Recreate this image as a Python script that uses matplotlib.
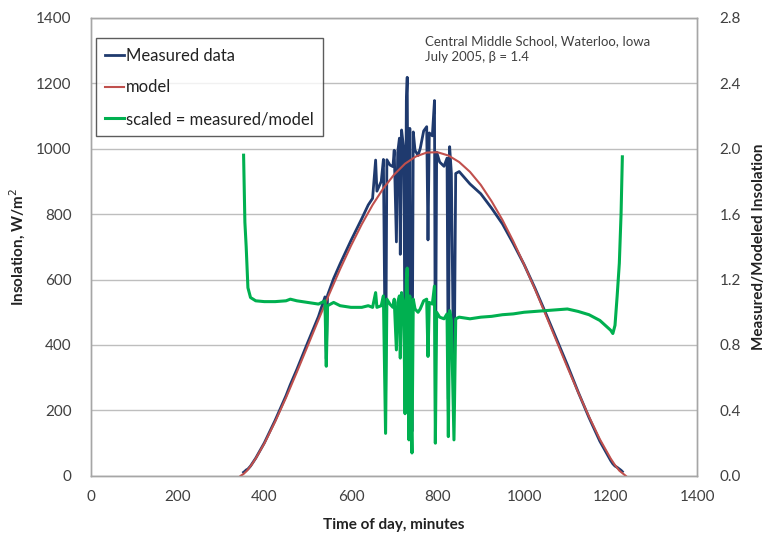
import matplotlib
matplotlib.use("Agg")
import matplotlib.pyplot as plt

plt.rcParams['font.family'] = ['Lato', 'DejaVu Sans']

# ---- data ----
model_t = [345, 352, 360, 370, 380, 400, 425, 450, 475, 500, 525, 550, 575, 600,
           625, 650, 675, 700, 725, 750, 775, 800, 825, 850, 875, 900, 925, 950,
           975, 1000, 1025, 1050, 1075, 1100, 1125, 1150, 1175, 1200, 1210, 1220, 1235]
model_v = [0, 6, 16, 33, 53, 99, 166, 239, 317, 397, 477, 556, 632, 703,
           769, 828, 879, 921, 954, 976, 988, 989, 979, 959, 929, 889, 839, 782,
           717, 646, 571, 492, 412, 332, 255, 181, 112, 53, 33, 16, 0]

meas_t = [352, 355, 358, 362, 368, 380, 400, 425, 450, 460, 475, 500, 525, 540, 543,
          546, 560, 575, 600, 625, 640, 650, 657, 660, 670, 675, 680, 683, 690, 697,
          700, 705, 708, 712, 714, 717, 722, 725, 728, 730, 732, 734, 736, 738, 741,
          744, 748, 755, 760, 768, 775, 778, 781, 788, 793, 795, 798, 805, 815, 822,
          825, 828, 832, 838, 842, 850, 875, 900, 925, 950, 975, 1000, 1025, 1050,
          1075, 1100, 1125, 1150, 1175, 1200, 1205, 1210, 1215, 1220, 1224, 1227]
meas_v = [11, 14, 18, 21, 30, 54, 101, 170, 245, 279, 325, 407, 487, 547, 358,
          552, 603, 648, 719, 786, 828, 848, 965, 870, 900, 967, 231, 966, 950, 945,
          995, 715, 988, 1032, 677, 1057, 998, 363, 1148, 1218, 673, 212, 1062, 484, 136,
          1051, 995, 979, 1000, 1054, 1067, 721, 1048, 1039, 1147, 198, 989, 959, 946, 971,
          235, 1006, 925, 213, 924, 930, 892, 862, 818, 770, 710, 646, 574, 497,
          418, 339, 256, 178, 106, 47, 37, 30, 26, 21, 17, 13]
scaled_v = [1.96, 1.55, 1.40, 1.15, 1.09, 1.07, 1.065, 1.065, 1.07, 1.08, 1.07, 1.06, 1.05, 1.07, 0.67,
            1.04, 1.06, 1.04, 1.03, 1.03, 1.04, 1.03, 1.12, 1.03, 1.04, 1.10, 0.26, 1.08, 1.05, 1.03,
            1.08, 0.77, 1.06, 1.10, 0.72, 1.12, 1.05, 0.38, 1.20, 1.27, 0.70, 0.22, 1.10, 0.50, 0.14,
            1.08, 1.02, 1.00, 1.02, 1.07, 1.08, 0.73, 1.06, 1.05, 1.16, 0.20, 1.00, 0.97, 0.96, 0.99,
            0.24, 1.01, 0.95, 0.22, 0.96, 0.97, 0.96, 0.97, 0.975, 0.985, 0.99, 1.00, 1.005, 1.01,
            1.015, 1.02, 1.005, 0.985, 0.95, 0.89, 0.87, 0.92, 1.10, 1.30, 1.60, 1.95]

x_ticks = [0, 200, 400, 600, 800, 1000, 1200, 1400]
y_ticks = [0, 200, 400, 600, 800, 1000, 1200, 1400]
y2_ticks = [0.0, 0.4, 0.8, 1.2, 1.6, 2.0, 2.4, 2.8]

c_meas = "#1F3A6E"
c_model = "#C0504D"
c_scaled = "#00B050"
c_text = "#404040"

fig = plt.figure(figsize=(7.73, 5.54), dpi=100)
ax = fig.add_axes([0.118, 0.141, 0.784, 0.827])
ax2 = ax.twinx()

ax.plot(meas_t, meas_v, color=c_meas, lw=2.0, label="Measured data", zorder=2)
ax.plot(model_t, model_v, color=c_model, lw=1.5, label="model", zorder=3)
ax2.plot(meas_t, scaled_v, color=c_scaled, lw=2.2, label="scaled = measured/model")

ax.set_xlim(0, 1400)
ax.set_ylim(0, 1400)
ax2.set_ylim(0, 2.8)
ax.set_xticks(x_ticks)
ax.set_yticks(y_ticks)
ax2.set_yticks(y2_ticks)
ax2.set_yticklabels([f"{v:.1f}" for v in y2_ticks])

ax.grid(axis='y', color="#BEBEBE", lw=1.0)
ax.set_axisbelow(True)
for a in (ax, ax2):
    for s in a.spines.values():
        s.set_color("#A6A6A6")
        s.set_linewidth(1.0)
    a.tick_params(length=0, labelsize=11, colors=c_text)
ax.tick_params(axis='x', pad=10)
ax.tick_params(axis='y', pad=14)
ax2.tick_params(axis='y', pad=16)

ax.set_xlabel("Time of day, minutes", fontsize=11, fontweight='bold', color="#222222", labelpad=10)
ax.set_ylabel("Insolation, W/m$^2$", fontsize=11, fontweight='bold', color="#222222", labelpad=6)
ax2.set_ylabel("Measured/Modeled Insolation", fontsize=11, fontweight='bold', color="#222222", labelpad=8)

h1, l1 = ax.get_legend_handles_labels()
h2, l2 = ax2.get_legend_handles_labels()
leg = ax2.legend(h1 + h2, l1 + l2, loc='upper left', bbox_to_anchor=(0.008, 0.955),
                 fontsize=12, frameon=True, fancybox=False, edgecolor="#333333",
                 handlelength=1.1, handletextpad=0.15, borderpad=0.55, labelspacing=0.95,
                 borderaxespad=0)
leg.get_frame().set_linewidth(1.0)
for t in leg.get_texts():
    t.set_color("#222222")

ax2.text(0.551, 0.962, "Central Middle School, Waterloo, Iowa\nJuly 2005, \u03b2 = 1.4",
         transform=ax2.transAxes, ha='left', va='top', fontsize=9.5,
         color="#404040", linespacing=1.35)

fig.savefig("out.png", dpi=100)
